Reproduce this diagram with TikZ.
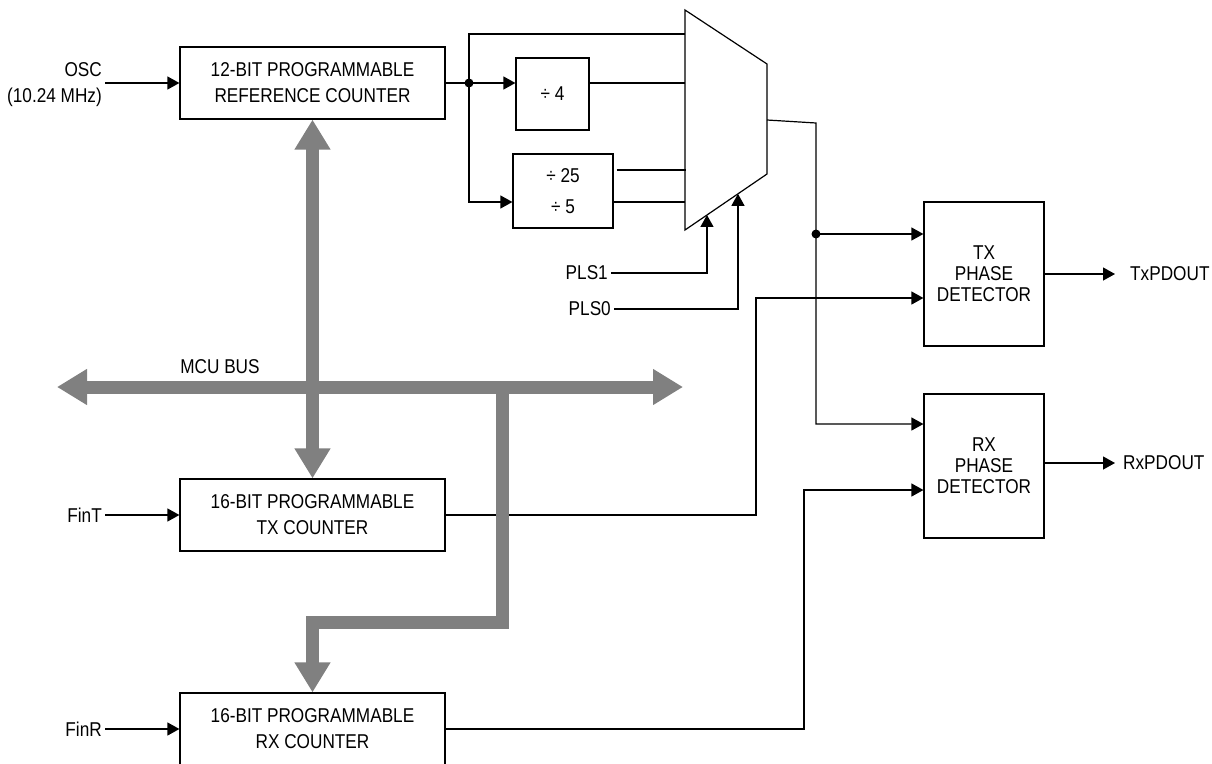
\documentclass[tikz,border=0pt]{standalone}
\usepackage{fontspec}
\setmainfont{Liberation Sans}[FakeStretch=0.86]
\usetikzlibrary{arrows.meta,calc}

\tikzset{
  blk/.style={draw, line width=1.2pt, align=center, inner sep=0pt},
  pdbox/.style={blk, minimum width=120pt, minimum height=144pt, font=\fontsize{20}{21}\selectfont},
  cntbox/.style={blk, minimum width=265pt, minimum height=72pt},
  lbl/.style={inner sep=3pt},
  sigtip/.tip={Triangle[length=12pt,width=13pt]},
  bustip/.tip={Triangle[length=30pt,width=34pt]},
  sig/.style={line width=1.2pt},
  bus/.style={draw=gray, line width=13pt, line join=miter},
}

\begin{document}
\begin{tikzpicture}[x=1pt,y=-1pt,>=sigtip,every node/.style={font=\fontsize{20}{26}\selectfont}]
  \useasboundingbox (0,0) rectangle (1212,763);

  % counter blocks
  \node[cntbox] (ref) at (312.5,83) {12-BIT PROGRAMMABLE\\REFERENCE COUNTER};
  \node[cntbox] (txc) at (312.5,515) {16-BIT PROGRAMMABLE\\TX COUNTER};
  \node[cntbox] (rxc) at (312.5,729) {16-BIT PROGRAMMABLE\\RX COUNTER};

  % dividers
  \node[blk, minimum width=73pt, minimum height=72pt] (div4) at (552.5,94) {÷ 4};
  \node[blk, minimum width=100pt, minimum height=74pt] (div25) at (563,191) {÷ 25\\[5pt]÷ 5};

  % phase detectors
  \node[pdbox] (txpd) at (984,274) {TX\\PHASE\\DETECTOR};
  \node[pdbox] (rxpd) at (984,466) {RX\\PHASE\\DETECTOR};

  % multiplexer
  \coordinate (mtl) at (685,10);
  \coordinate (mtr) at (767,64);
  \coordinate (mbr) at (767,174);
  \coordinate (mbl) at (685,230);
  \draw[sig] (mtl) -- (mtr) -- (mbr) -- (mbl) -- cycle;
  \coordinate (s1) at ($(mbl)!0.268!(mbr)$);
  \coordinate (s0) at ($(mbl)!0.646!(mbr)$);
  \coordinate (mout) at (767,120);
  \coordinate (bend) at (816,123);

  % labels
  \node[lbl, anchor=east, align=right] (osc) at (105,85) {OSC\\(10.24 MHz)};
  \node[lbl, anchor=east] (fint) at (105,515) {FinT};
  \node[lbl, anchor=east] (finr) at (105,729) {FinR};
  \node[lbl, anchor=east] (pls1) at (611,273) {PLS1};
  \node[lbl, anchor=east] (pls0) at (614,309) {PLS0};
  \coordinate (txend) at (1115,274);
  \coordinate (rxend) at (1115,463);
  \node[anchor=west, inner sep=0pt] (txout) at (1130,274) {TxPDOUT};
  \node[anchor=west, inner sep=0pt] (rxout) at (1123,463) {RxPDOUT};
  \node (mcu) at (220,367) {MCU BUS};

  % inputs
  \draw[sig,->] (osc.east |- ref.west) -- (ref.west);
  \draw[sig,->] (fint.east) -- (txc.west);
  \draw[sig,->] (finr.east) -- (rxc.west);

  % reference path into the mux
  \coordinate (split) at (469,83);
  \draw[sig] (ref.east) -- (split);
  \draw[sig,->] (split) -- (split -| div4.west);
  \draw[sig] (split) |- (469,34) -- (mtl |- 0,34);
  \draw[sig,->] (split) |- ($(div25.west)+(0,11)$);
  \draw[sig] (split -| div4.east) -- (split -| mtl);
  \draw[sig, shorten <=3pt] ($(div25.east)+(0,-21)$) -- ($(div25.east -| mtl)+(1,-21)$);
  \draw[sig] ($(div25.east)+(0,11)$) -- ($(div25.east -| mtl)+(0,11)$);
  \draw[sig,->] (pls1.east) -| (s1);
  \draw[sig,->] (pls0.east) -| (s0);

  % mux output to detectors
  \coordinate (tap) at (816,234);
  \draw[sig,->] (mout) -- (bend) |- ($(rxpd.west)+(0,-42)$);
  \draw[sig,->] (tap) -- (tap -| txpd.west);
  \coordinate (tx2) at (756,298);
  \coordinate (rx2) at (804,490);
  \draw[sig,->] (txc.east) -| (tx2) -- (tx2 -| txpd.west);
  \draw[sig,->] (rxc.east) -| (rx2) -- (rx2 -| rxpd.west);
  \draw[sig,->] (txpd.east) -- (txend);
  \draw[sig,->] (rxpd.east |- rxend) -- (rxend);

  \fill (split) circle (4.5pt);
  \fill (tap) circle (4.5pt);

  % MCU bus
  \coordinate (busl) at (57,387);
  \coordinate (busr) at (683,387);
  \coordinate (brk) at (502,387);
  \coordinate (brc) at (312.5,622);
  \draw[bus, bustip-bustip] (busl) -- (busr);
  \draw[bus, bustip-bustip] (ref.south) -- (txc.north);
  \draw[bus, -bustip] (brk) |- (brc) -- (rxc.north);
\end{tikzpicture}
\end{document}
